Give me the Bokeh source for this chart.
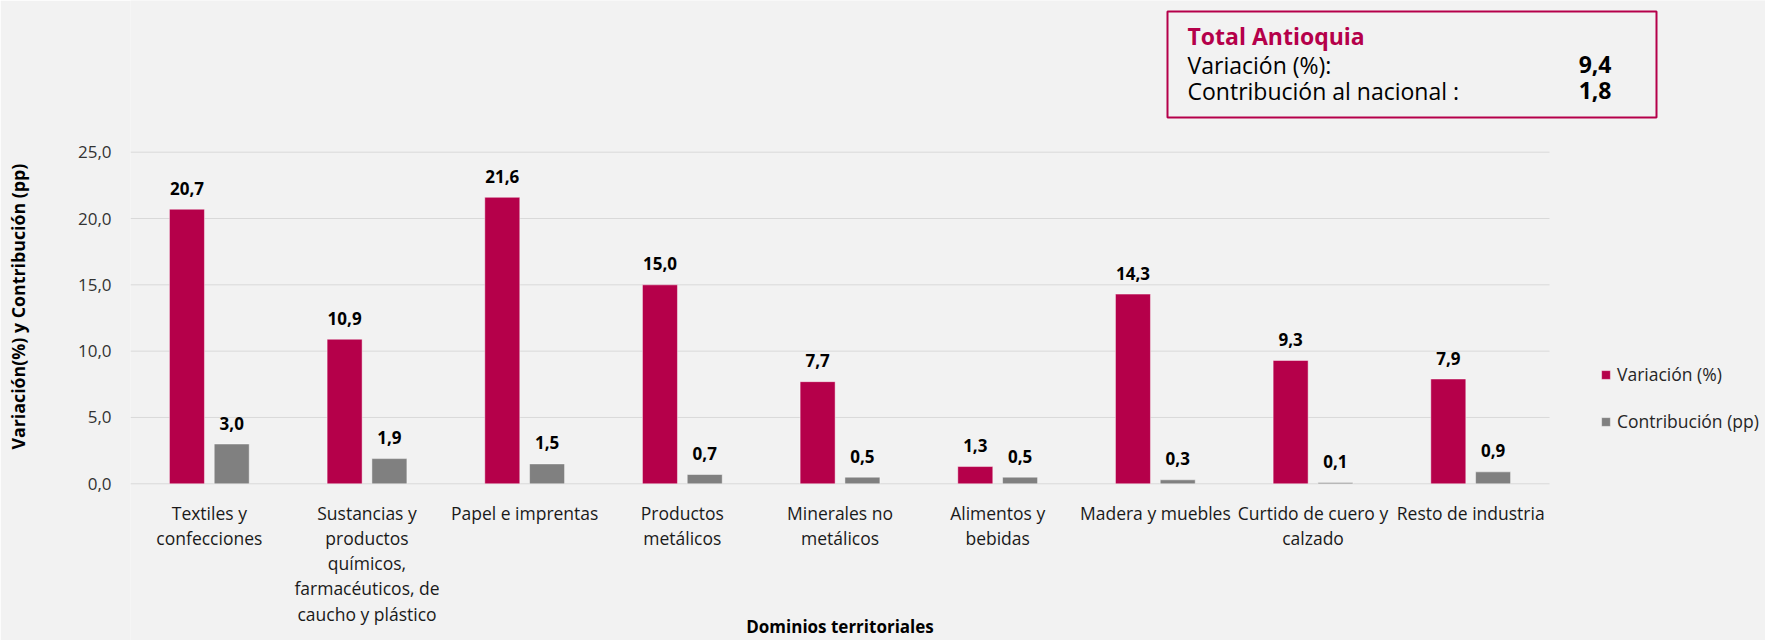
import numpy as np
from bokeh.plotting import figure
from bokeh.models import (ColumnDataSource, Range1d, FixedTicker, Legend, LegendItem,
                          Label, BoxAnnotation, Title)
from bokeh.core.properties import value
from bokeh.embed import file_html
from bokeh.resources import INLINE

categories = ["Textiles y\nconfecciones",
              "Sustancias y\nproductos\nquímicos,\nfarmacéuticos, de\ncaucho y plástico",
              "Papel e imprentas",
              "Productos\nmetálicos",
              "Minerales no\nmetálicos",
              "Alimentos y\nbebidas",
              "Madera y muebles",
              "Curtido de cuero y\ncalzado",
              "Resto de industria"]
variacion = [20.7, 10.9, 21.6, 15.0, 7.7, 1.3, 14.3, 9.3, 7.9]
contribucion = [3.0, 1.9, 1.5, 0.7, 0.5, 0.5, 0.3, 0.1, 0.9]
y_ticks = [0, 5, 10, 15, 20, 25]
total_variacion = "9,4"
total_contribucion = "1,8"

CRIMSON = "#B5004A"
GREY = "#808080"
BG = "#F2F2F2"
GRID = "#D9D9D9"
FONT = "Open Sans"

# layout geometry (pixels)
W, H = 1765, 640
LEFT = 130
CAT_W = 157.67
PX_PER_UNIT = 13.264
ZERO_Y = 483.3

def fmt(v):
    return f"{v:.1f}".replace(".", ",")

n = len(categories)
centers = np.arange(n) + 0.5
OFF, BW = 0.142, 0.222

src = ColumnDataSource(dict(
    xc=centers, xv=centers - OFF, xk=centers + OFF, cat=categories,
    var=variacion, con=contribucion,
    var_lbl=[fmt(v) for v in variacion], con_lbl=[fmt(v) for v in contribucion],
    zero=[0] * n,
))

p = figure(width=W, height=H,
           x_range=Range1d(0, (W - LEFT) / CAT_W),
           y_range=Range1d(-(H - ZERO_Y) / PX_PER_UNIT, ZERO_Y / PX_PER_UNIT),
           output_backend="svg", toolbar_location=None,
           min_border_left=LEFT, min_border_right=0, min_border_top=0, min_border_bottom=0)
p.background_fill_color = BG
p.border_fill_color = BG
p.outline_line_color = None
p.xgrid.grid_line_color = None
p.ygrid.grid_line_color = None
p.xaxis.visible = False

# gridlines (only across the category area)
p.segment(x0=0, x1=n, y0=y_ticks, y1=y_ticks, line_color=GRID, line_width=1)

r1 = p.vbar(x="xv", top="var", width=BW, source=src, fill_color=CRIMSON,
            line_color="white", line_alpha=0.45, line_width=1)
r2 = p.vbar(x="xk", top="con", width=BW, source=src, fill_color=GREY,
            line_color="white", line_alpha=0.45, line_width=1)

lbl_kw = dict(text_align="center", text_baseline="alphabetic", y_offset=-21,
              text_font=value(FONT), text_font_size="17px", text_font_style="bold",
              text_color="#000000")
p.text(x="xv", y="var", text="var_lbl", source=src, **lbl_kw)
p.text(x="xk", y="con", text="con_lbl", source=src, **lbl_kw)

# category labels
p.text(x="xc", y="zero", text="cat", source=src, text_align="center", text_baseline="top",
       y_offset=17, text_line_height=1.05, text_font=value(FONT), text_font_size="17.5px",
       text_color="#1a1a1a")

# x axis title
p.text(x=[n / 2], y=[0], text=["Dominios territoriales"], text_align="center",
       text_baseline="middle", y_offset=143, text_font=value(FONT), text_font_size="17px",
       text_font_style="bold", text_color="#000000")

# y axis
p.yaxis.ticker = FixedTicker(ticks=y_ticks)
p.yaxis.major_label_overrides = {t: fmt(t) for t in y_ticks}
p.yaxis.axis_line_color = None
p.yaxis.major_tick_line_color = None
p.yaxis.minor_tick_line_color = None
p.yaxis.major_tick_out = 0
p.yaxis.major_tick_in = 0
p.yaxis.major_label_standoff = 19
p.yaxis.major_label_text_font = FONT
p.yaxis.major_label_text_font_size = "17px"
p.yaxis.major_label_text_color = "#333333"
# blank axis label used only as spacing between tick labels and the axis title
p.yaxis.axis_label = " "
p.yaxis.axis_label_text_font_size = "1px"
p.yaxis.axis_label_standoff = 41

# y axis title, centred on the value scale rather than the whole frame
p.add_layout(Title(text="Variación(%) y Contribución (pp)", align="left", offset=191,
                   standoff=0, vertical_align="bottom", text_font=FONT,
                   text_font_size="17.8px", text_font_style="bold",
                   text_color="#000000"), "left")

# legend (inside the wide frame, right of the categories)
legend = Legend(items=[LegendItem(label="Variación (%)", renderers=[r1]),
                       LegendItem(label="Contribución (pp)", renderers=[r2])],
                location=(1470, 207), orientation="vertical",
                glyph_width=11, glyph_height=11, label_height=20, spacing=23,
                padding=0, margin=0, label_standoff=6,
                label_text_font=FONT, label_text_font_size="17.5px", label_text_color="#262626",
                border_line_color=None, background_fill_alpha=0)
p.add_layout(legend)

# info box (frame-relative pixels)
p.add_layout(BoxAnnotation(left=1037, right=1526, top=629, bottom=523,
                           left_units="screen", right_units="screen",
                           top_units="screen", bottom_units="screen",
                           fill_alpha=0, line_color=CRIMSON, line_alpha=1, line_width=2))
box_kw = dict(x_units="screen", y_units="screen", text_baseline="middle", text_font=FONT)
p.add_layout(Label(x=1057, y=605, text="Total Antioquia", text_align="left",
                   text_font_size="23px", text_font_style="bold", text_color=CRIMSON, **box_kw))
p.add_layout(Label(x=1057, y=576, text="Variación (%):", text_align="left",
                   text_font_size="23px", text_color="#000000", **box_kw))
p.add_layout(Label(x=1057, y=550, text="Contribución al nacional :", text_align="left",
                   text_font_size="23px", text_color="#000000", **box_kw))
p.add_layout(Label(x=1481, y=576, text=total_variacion, text_align="right",
                   text_font_size="23px", text_font_style="bold", text_color="#000000", **box_kw))
p.add_layout(Label(x=1481, y=550, text=total_contribucion, text_align="right",
                   text_font_size="23px", text_font_style="bold", text_color="#000000", **box_kw))

html = file_html(p, INLINE)
html = html.replace("<body>", '<body style="background-color:#F2F2F2;">', 1)
open("out.html", "w").write(html)
